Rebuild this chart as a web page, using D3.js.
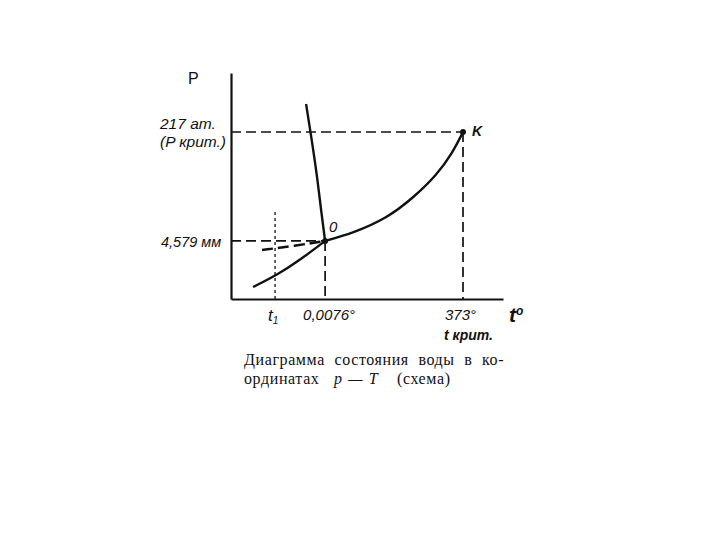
<!DOCTYPE html>
<html>
<head>
<meta charset="utf-8">
<script src="https://cdn.jsdelivr.net/npm/d3@7"></script>
<style>
  body { margin: 0; background: #fff; }
  text { fill: #111; }
  .lbl { font-family: "Liberation Sans", Arial, sans-serif; font-style: italic; font-size: 14px; }
  .cap { font-family: "Liberation Serif", "DejaVu Serif", serif; font-size: 16px; letter-spacing: 0.6px; word-spacing: 5px; }
</style>
</head>
<body>
<script>
// schematic units (0..100 on both axes) -- this is a scheme, not to scale
var triple = {t: 34.6, p: 25.7}      // O, 0.0076 deg / 4.579 mm
  , crit   = {t: 85.3, p: 73.9}      // K, 373 deg / 217 at
  , t1     = 16.2
  , t1Top  = 38.5
;
var boilT = [34.6, 44.9, 57.4, 66.9, 75.7, 81.6, 85.3]
  , boilP = [25.7, 29.2, 35.8, 44.7, 54.9, 65.0, 73.9]
  , meltT = [27.6, 29.4, 31.6, 33.1, 34.6]
  , meltP = [86.3, 72.6, 54.9, 39.4, 25.7]
  , sublT = [8.1, 16.9, 25.4, 34.6]
  , sublP = [5.3, 10.6, 17.3, 25.7]
  , superT = [11.4, 23.5, 34.6]        // supercooled liquid (dashed)
  , superP = [21.7, 23.5, 25.7]
;
var yLabels = ["217 ат.", "(P крит.)", "4,579 мм"]
  , xLabels = ["0,0076°", "373°", "t крит."]
  , caption = ["Диаграмма состояния воды в ко-", "ординатах"]
;

var W = 720, H = 540
  , x = d3.scaleLinear().domain([0, 100]).range([231, 503])
  , y = d3.scaleLinear().domain([0, 100]).range([299, 73])
;
var svg = d3.select("body").append("svg")
    .attr("width", W)
    .attr("height", H)
;

function pts(ts, ps) { return ts.map(function(t, i) { return [t, ps[i]]; }); }
var line = d3.line()
    .x(function(d) { return x(d[0]); })
    .y(function(d) { return y(d[1]); })
    .curve(d3.curveBasis)
;

// axes: plain lines, no ticks
svg.append("g")
    .attr("transform", "translate(0," + y(0) + ")")
    .call(d3.axisBottom(x).ticks(0).tickSizeOuter(0))
    .select(".domain").attr("stroke", "#111").attr("stroke-width", 2.2)
;
svg.append("g")
    .attr("transform", "translate(" + x(0) + ",0)")
    .call(d3.axisLeft(y).ticks(0).tickSizeOuter(0))
    .select(".domain").attr("stroke", "#111").attr("stroke-width", 2.2)
;

// dashed guides
var guides = [
    [[0, crit.p], [crit.t, crit.p]],
    [[crit.t, crit.p], [crit.t, 0]],
    [[0, triple.p], [triple.t, triple.p]],
    [[triple.t, triple.p], [triple.t, 0]]
];
svg.selectAll(".guide")
    .data(guides)
  .enter().append("path")
    .attr("class", "guide")
    .attr("d", d3.line().x(function(d) { return x(d[0]); }).y(function(d) { return y(d[1]); }))
    .attr("fill", "none")
    .attr("stroke", "#111")
    .attr("stroke-width", 1.7)
    .attr("stroke-dasharray", "10,5")
;
// dotted t1
svg.append("line")
    .attr("x1", x(t1)).attr("x2", x(t1))
    .attr("y1", y(t1Top)).attr("y2", y(0))
    .attr("stroke", "#111")
    .attr("stroke-width", 1.3)
    .attr("stroke-dasharray", "3,3")
;

// phase curves
[pts(boilT, boilP), pts(meltT, meltP), pts(sublT, sublP)].forEach(function(c) {
    svg.append("path")
        .attr("d", line(c))
        .attr("fill", "none")
        .attr("stroke", "#111")
        .attr("stroke-width", 2.4)
    ;
});
svg.append("path")
    .attr("d", line(pts(superT, superP)))
    .attr("fill", "none")
    .attr("stroke", "#111")
    .attr("stroke-width", 2.4)
    .attr("stroke-dasharray", "11,5")
;

// points
svg.selectAll(".pt")
    .data([triple, crit])
  .enter().append("circle")
    .attr("cx", function(d) { return x(d.t); })
    .attr("cy", function(d) { return y(d.p); })
    .attr("r", 3)
    .attr("fill", "#111")
;

// labels
function lbl(tx, ty, s, size, weight) {
    return svg.append("text")
        .attr("class", "lbl")
        .attr("x", tx).attr("y", ty)
        .style("font-size", (size || 14) + "px")
        .style("font-weight", weight || "normal")
        .text(s);
}
svg.append("text")
    .attr("x", 188).attr("y", 84)
    .style("font-family", "Liberation Sans, Arial, sans-serif")
    .style("font-size", "16px")
    .text("P");
lbl(160, y(crit.p) - 3, yLabels[0], 15.5);
lbl(160, y(crit.p) + 15, yLabels[1], 15.5);
lbl(161, y(triple.p) + 6, yLabels[2], 14.5);
lbl(x(crit.t) + 9, y(crit.p) + 4, "K", 14, "bold");
lbl(x(triple.t) + 4, y(triple.p) - 9, "0", 15);

var t1Text = lbl(x(t1) - 7, 321, "t", 17);
t1Text.append("tspan").attr("dy", 3).style("font-size", "10px").text("1");
lbl(x(triple.t) - 22, 320, xLabels[0], 15);
lbl(x(crit.t) - 18, 320, xLabels[1], 15);
lbl(x(crit.t) - 19, 340, xLabels[2], 14, "bold");
var tdeg = lbl(509, 322, "t", 21, "bold");
tdeg.append("tspan").attr("dy", -7).style("font-size", "12px").text("o");

// caption
svg.append("text").attr("class", "cap")
    .attr("x", 244).attr("y", 365)
    .text(caption[0]);
var c2 = svg.append("text").attr("class", "cap")
    .attr("y", 384);
c2.append("tspan").attr("x", 244).text(caption[1]);
c2.append("tspan").attr("x", 334).style("font-style", "italic").style("word-spacing", "1px").text("p — T");
c2.append("tspan").attr("x", 397).text("(схема)");
</script>
</body>
</html>
